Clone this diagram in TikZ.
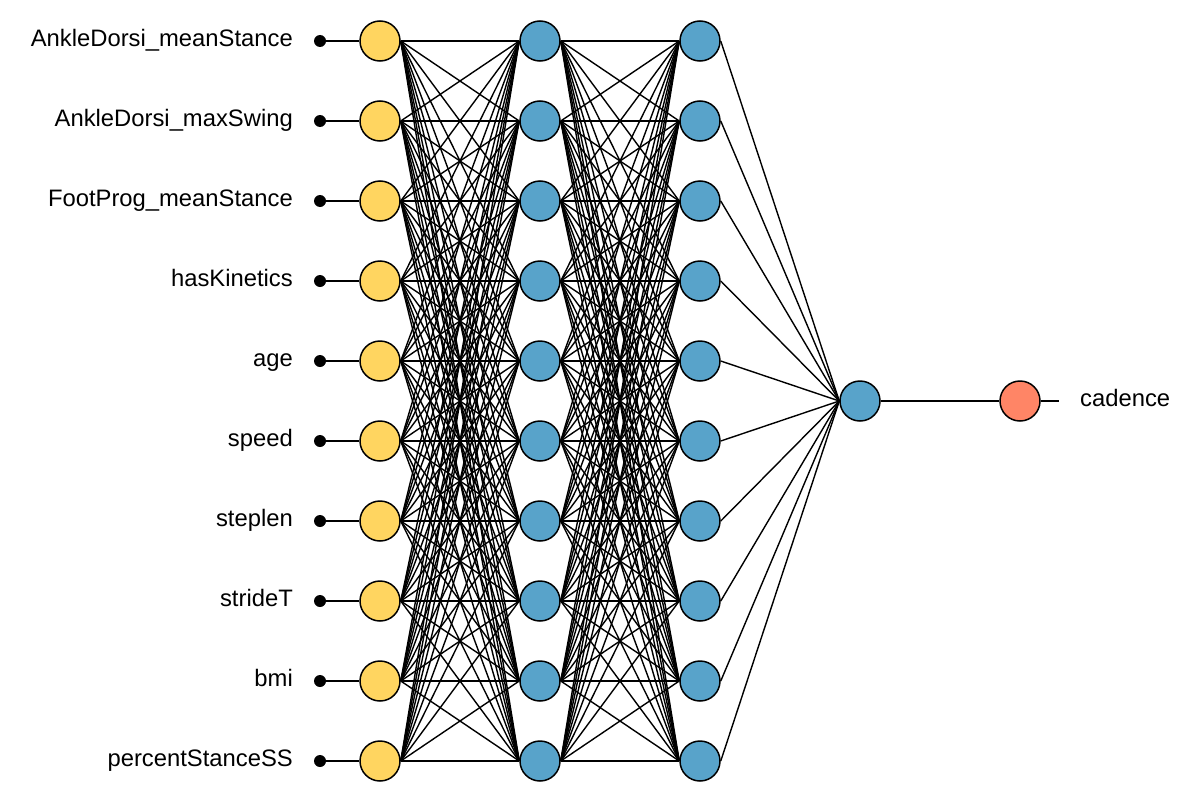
\documentclass[tikz,border=0pt]{standalone}
\usepackage{fontspec}
\setmainfont{Liberation Sans}
\definecolor{inyel}{RGB}{255,213,96}
\definecolor{hidblue}{RGB}{88,163,202}
\definecolor{outred}{RGB}{255,133,102}
\tikzset{
  neuron/.style={circle, draw=black, line width=1.5pt, minimum size=40pt, inner sep=0pt},
  innode/.style={neuron, fill=inyel},
  hidnode/.style={neuron, fill=hidblue},
  outnode/.style={neuron, fill=outred},
  indot/.style={circle, fill=black, minimum size=12pt, inner sep=0pt},
  lab/.style={font=\fontsize{23.8}{28}\selectfont, inner sep=0pt},
  edge/.style={line width=1.4pt, black}
}
\begin{document}
\begin{tikzpicture}[x=1pt,y=-1pt]
\useasboundingbox (0,0) rectangle (1182,808);
\foreach \t [count=\i from 0] in {AnkleDorsi\_meanStance,AnkleDorsi\_maxSwing,FootProg\_meanStance,hasKinetics,age,speed,steplen,strideT,bmi,percentStanceSS}{
  \pgfmathsetmacro{\yy}{41+80*\i}
  \node[innode] (i\i) at (380,\yy) {};
  \node[hidnode] (a\i) at (540,\yy) {};
  \node[hidnode] (b\i) at (700,\yy) {};
  \node[indot] (d\i) at (320,\yy) {};
  \node[lab, anchor=east] (l\i) at (293,\yy) {\strut\t};
  \draw[edge] (d\i) -- (i\i.west);
}
\node[hidnode] (h) at (860,401) {};
\node[outnode] (o) at (1020,401) {};
\coordinate (oe) at (1059,401);
\node[lab, anchor=west] (ol) at (1080,401) {\strut cadence};
\foreach \i in {0,...,9}{
  \foreach \j in {0,...,9}{
    \draw[edge] (i\i.east) -- (a\j.west);
    \draw[edge] (a\i.east) -- (b\j.west);
  }
  \draw[edge] (b\i.east) -- (h.west);
}
\draw[edge] (h.east) -- (o.west);
\draw[edge] (o.east) -- (oe);
\end{tikzpicture}
\end{document}
